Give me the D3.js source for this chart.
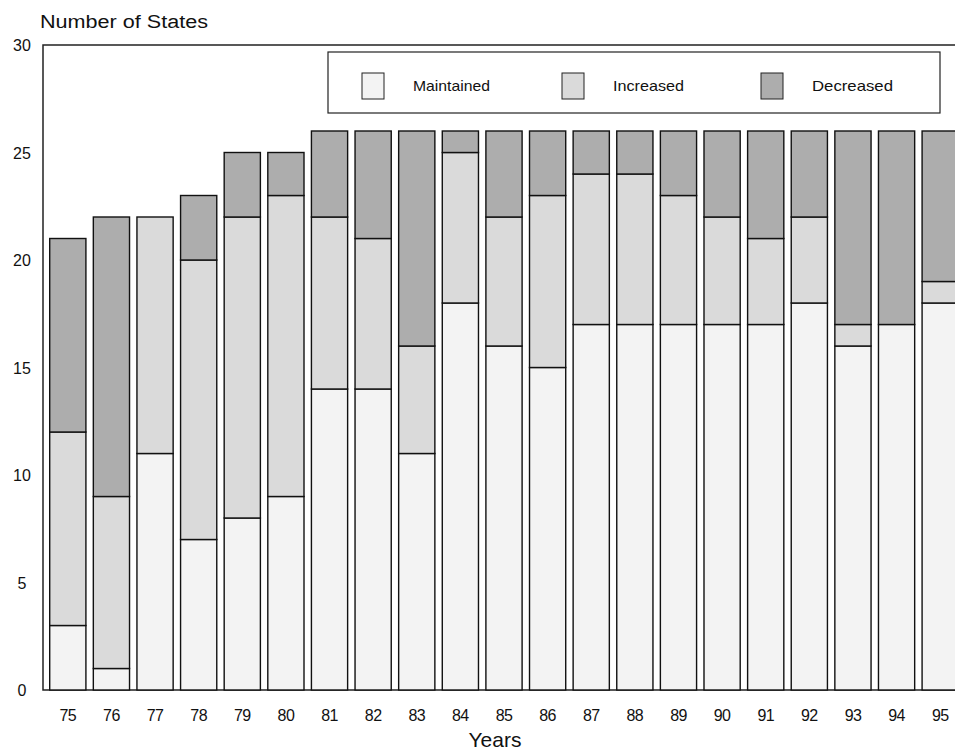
<!DOCTYPE html>
<html>
<head>
<meta charset="utf-8">
<script src="https://cdn.jsdelivr.net/npm/d3@7"></script>
<style>
  body { margin: 0; background: #fff; }
  svg { font-family: "Liberation Sans", Arial, sans-serif; }
</style>
</head>
<body>
<svg width="955" height="754"></svg>
<script>
const years = ['75','76','77','78','79','80','81','82','83','84','85','86','87','88','89','90','91','92','93','94','95'];
const maintained = [3, 1, 11, 7, 8, 9, 14, 14, 11, 18, 16, 15, 17, 17, 17, 17, 17, 18, 16, 17, 18];
const increased  = [9, 8, 11, 13, 14, 14, 8, 7, 5, 7, 6, 8, 7, 7, 6, 5, 4, 4, 1, 0, 1];
const decreased  = [9, 13, 0, 3, 3, 2, 4, 5, 10, 1, 4, 3, 2, 2, 3, 4, 5, 4, 9, 9, 7];
const yTicks = [0, 5, 10, 15, 20, 25, 30];
const keys = ['Maintained', 'Increased', 'Decreased'];

const colors = { Maintained: '#f3f3f3', Increased: '#dadada', Decreased: '#adadad' };

const svg = d3.select('svg');
const mLeft = 43, mTop = 45, mBottom = 690;

const rows = years.map((y, i) => ({
  year: y, Maintained: maintained[i], Increased: increased[i], Decreased: decreased[i]
}));
const series = d3.stack().keys(keys)(rows);

const x = d3.scaleBand().domain(years).range([46, 962]).paddingInner(0.17).paddingOuter(0.085);
const y = d3.scaleLinear().domain([0, 30]).range([mBottom, mTop]);

// frame
svg.append('path')
  .attr('d', 'M955,' + mTop + 'H' + mLeft + 'V' + mBottom + 'H955')
  .attr('fill', 'none').attr('stroke', '#222').attr('stroke-width', 1.5);

// bars
svg.append('g').selectAll('g').data(series).join('g')
  .attr('fill', d => colors[d.key])
  .selectAll('rect').data(d => d).join('rect')
    .attr('x', d => x(d.data.year))
    .attr('y', d => y(d[1]))
    .attr('width', x.bandwidth())
    .attr('height', d => y(d[0]) - y(d[1]))
    .attr('stroke', '#111').attr('stroke-width', 1.4);

// y axis labels
svg.append('g').selectAll('text').data(yTicks).join('text')
  .attr('x', 22).attr('y', d => y(d) + 6)
  .attr('text-anchor', 'middle').attr('font-size', 16).attr('fill', '#111')
  .text(d => d);

// x axis labels
svg.append('g').selectAll('text').data(years).join('text')
  .attr('x', d => x(d) + x.bandwidth() / 2).attr('y', 721)
  .attr('text-anchor', 'middle').attr('font-size', 16).attr('letter-spacing', -0.6)
  .attr('fill', '#111')
  .text(d => d);

svg.append('text').attr('x', 40).attr('y', 28).attr('font-size', 18).attr('fill', '#111')
  .attr('textLength', 168).attr('lengthAdjust', 'spacingAndGlyphs')
  .text('Number of States');
svg.append('text').attr('x', 495).attr('y', 747).attr('text-anchor', 'middle')
  .attr('font-size', 21).attr('fill', '#111').text('Years');

// legend
const lg = svg.append('g');
lg.append('rect').attr('x', 328).attr('y', 52).attr('width', 612).attr('height', 61)
  .attr('fill', '#fff').attr('stroke', '#222').attr('stroke-width', 1.2);
const lx = [362, 562, 761];
const lw = [77, 71, 81];
keys.forEach((k, i) => {
  lg.append('rect').attr('x', lx[i]).attr('y', 73).attr('width', 22).attr('height', 26)
    .attr('fill', colors[k]).attr('stroke', '#222').attr('stroke-width', 1);
  lg.append('text').attr('x', lx[i] + 51).attr('y', 91).attr('font-size', 15)
    .attr('fill', '#111').attr('textLength', lw[i]).attr('lengthAdjust', 'spacingAndGlyphs')
    .text(k);
});
</script>
</body>
</html>
